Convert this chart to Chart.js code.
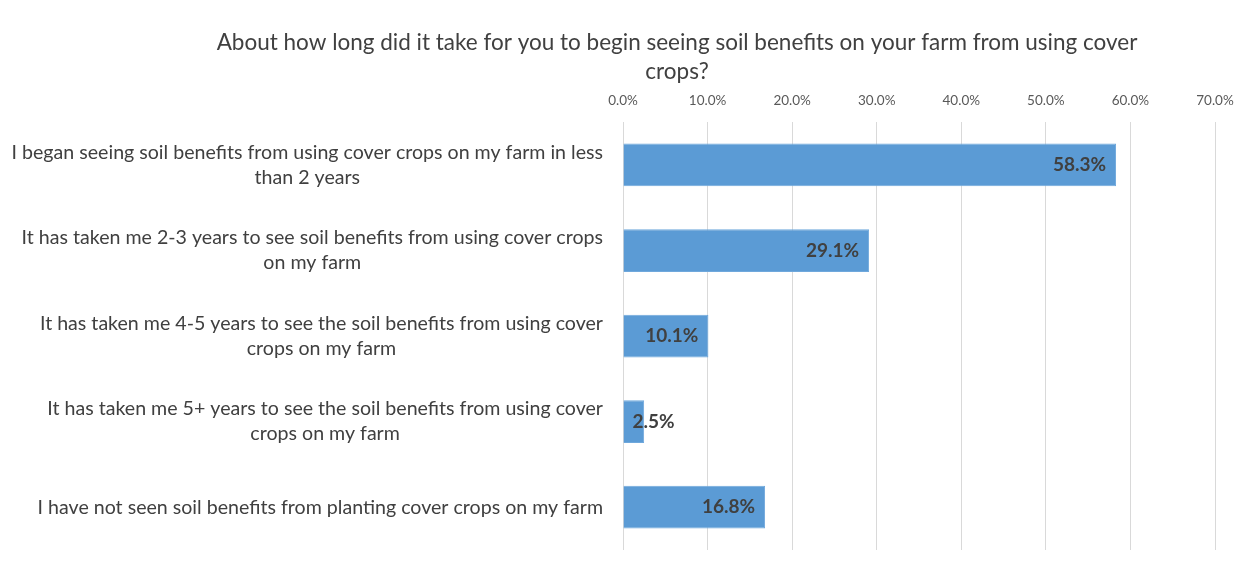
<!DOCTYPE html>
<html>
<head>
<meta charset="utf-8">
<script src="https://cdn.jsdelivr.net/npm/chart.js@4.4.1/dist/chart.umd.min.js"></script>
<style>
  html, body { margin: 0; padding: 0; background: #fff; }
  #wrap { width: 1244px; height: 562px; position: relative; }
</style>
</head>
<body>
<div id="wrap"><canvas id="chart" width="1244" height="562"></canvas></div>
<script>
const titleLines = [
  'About how long did it take for you to begin seeing soil benefits on your farm from using cover',
  'crops?'
];
const categories = [
  ['I began seeing soil benefits from using cover crops on my farm in less', 'than 2 years'],
  ['It has taken me 2-3 years to see soil benefits from using cover crops', 'on my farm'],
  ['It has taken me 4-5 years to see the soil benefits from using cover', 'crops on my farm'],
  ['It has taken me 5+ years to see the soil benefits from using cover', 'crops on my farm'],
  ['I have not seen soil benefits from planting cover crops on my farm']
];
const values = [58.3, 29.1, 10.1, 2.5, 16.8];
const axisMin = 0;
const axisMax = 70;
const axisStep = 10;

const FONT = 'Lato, "Open Sans", sans-serif';
const TEXT = '#404040';

// title drawn by hand so it can sit off-centre like the original
const titlePlugin = {
  id: 'titleText',
  afterDraw(chart) {
    const ctx = chart.ctx;
    ctx.save();
    ctx.fillStyle = TEXT;
    ctx.font = '22.5px ' + FONT;
    ctx.textAlign = 'center';
    ctx.textBaseline = 'middle';
    titleLines.forEach((line, i) => ctx.fillText(line, 677, 43 + i * 29));
    ctx.restore();
  }
};

// category labels: each label's lines centred on its widest line, right edge fixed
const catLabels = {
  id: 'catLabels',
  afterDraw(chart) {
    const ctx = chart.ctx;
    const y = chart.scales.y;
    const right = chart.chartArea.left - 20;
    ctx.save();
    ctx.fillStyle = TEXT;
    ctx.font = '19.6px ' + FONT;
    ctx.textBaseline = 'middle';
    ctx.textAlign = 'center';
    categories.forEach((lines, i) => {
      const w = Math.max(...lines.map(l => ctx.measureText(l).width));
      const cx = right - w / 2;
      const cy = y.getPixelForValue(i);
      const lh = 25;
      const top = cy - (lines.length - 1) * lh / 2;
      lines.forEach((l, j) => ctx.fillText(l, cx, top + j * lh));
    });
    ctx.restore();
  }
};

// value labels at the inside end of each bar
const valueLabels = {
  id: 'valueLabels',
  afterDatasetsDraw(chart) {
    const ctx = chart.ctx;
    const meta = chart.getDatasetMeta(0);
    ctx.save();
    ctx.fillStyle = TEXT;
    ctx.font = 'bold 19px ' + FONT;
    ctx.textBaseline = 'middle';
    meta.data.forEach((bar, i) => {
      const txt = values[i].toFixed(1) + '%';
      const w = ctx.measureText(txt).width;
      const x0 = bar.base, x1 = bar.x;
      if (x1 - x0 > w + 20) {
        ctx.textAlign = 'right';
        ctx.fillText(txt, x1 - 10, bar.y);
      } else {
        ctx.textAlign = 'left';
        ctx.fillText(txt, x0 + 9, bar.y);
      }
    });
    ctx.restore();
  }
};

new Chart(document.getElementById('chart'), {
  type: 'bar',
  data: {
    labels: categories,
    datasets: [{
      data: values,
      backgroundColor: '#5B9BD5',
      borderColor: '#6FA8DC',
      borderWidth: 1,
      barPercentage: 0.5,
      categoryPercentage: 1
    }]
  },
  options: {
    indexAxis: 'y',
    responsive: false,
    animation: false,
    devicePixelRatio: 1,
    layout: { padding: { top: 80, right: 0, bottom: 12, left: 0 } },
    plugins: {
      legend: { display: false },
      tooltip: { enabled: false },
      title: { display: false }
    },
    scales: {
      x: {
        position: 'top',
        min: axisMin,
        max: axisMax,
        ticks: {
          stepSize: axisStep,
          padding: 13,
          color: '#595959',
          font: { family: FONT, size: 13.5 },
          callback: v => v.toFixed(1) + '%'
        },
        grid: { color: '#d9d9d9', drawTicks: false },
        border: { display: false },
        afterFit(scale) { scale.paddingRight = 29; }
      },
      y: {
        ticks: { display: false },
        grid: { display: false },
        border: { display: false },
        afterFit(scale) { scale.width = 623; }
      }
    }
  },
  plugins: [titlePlugin, catLabels, valueLabels]
});
</script>
</body>
</html>
